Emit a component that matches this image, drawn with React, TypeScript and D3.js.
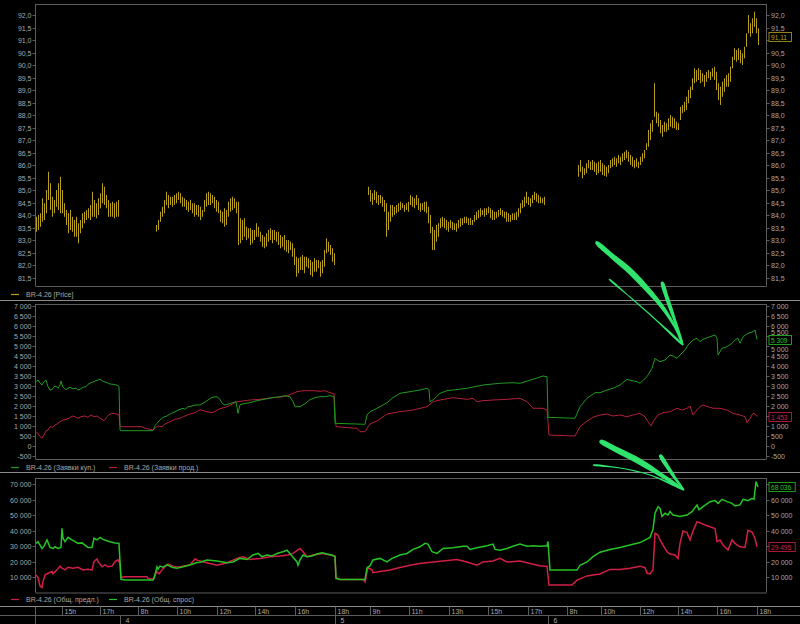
import React from "react";
import * as d3 from "d3";

// ---------- DATA ----------
const SLOTS = 365;

// price bars (high / low), one bar per slot, grouped by session
const seg1Start = 0;
const priceHigh1 = [83.93,84.0,84.07,84.67,84.47,85.0,85.73,85.27,84.73,84.6,85.0,85.27,85.53,85.0,84.47,84.2,84.07,84.2,83.93,83.8,83.93,83.67,83.8,84.07,84.13,84.2,84.27,84.4,84.93,84.6,84.47,84.67,84.87,85.27,85.13,84.8,84.6,84.47,84.53,84.47,84.53,84.6];
const priceLow1 = [83.33,83.4,83.53,83.73,83.8,84.07,84.6,84.2,83.93,84.07,84.33,84.2,84.07,84.07,83.93,83.6,83.27,83.4,83.33,83.13,83.13,82.87,83.27,83.47,83.67,83.8,83.87,83.8,83.93,83.93,83.87,84.0,84.27,84.47,84.4,84.27,83.93,83.93,83.93,83.87,83.93,83.93];

const seg2Start = 60;
const priceHigh2 = [83.6,83.8,84.13,84.33,84.6,84.93,84.8,84.73,84.73,84.8,84.87,84.93,84.87,84.73,84.67,84.6,84.53,84.6,84.47,84.47,84.4,84.4,
84.33,84.2,84.6,84.87,84.93,84.87,84.8,84.73,84.6,84.53,84.2,84.13,84.27,84.2,84.53,84.67,84.73,84.67,84.53,84.53,
83.87,83.8,83.87,83.53,83.47,83.47,83.4,83.4,83.67,83.53,83.33,83.2,83.13,83.27,83.4,83.47,83.4,83.4,83.33,83.33,
83.2,83.13,83.2,83.0,83.0,82.93,82.87,82.67,82.33,82.27,82.33,82.4,82.33,82.33,82.27,82.2,82.13,82.27,82.2,82.2,
82.13,82.2,82.6,83.07,82.93,82.8,82.67,82.47];
const priceLow2 = [83.33,83.4,83.73,83.93,84.07,84.4,84.27,84.4,84.33,84.4,84.47,84.6,84.47,84.33,84.33,84.2,84.13,84.2,84.07,83.93,84.0,83.93,
83.8,83.93,84.13,84.33,84.4,84.4,84.47,84.27,84.13,84.07,83.73,83.67,83.53,83.6,83.93,84.13,84.2,84.27,84.07,82.8,
82.87,83.0,83.13,83.0,83.07,82.8,82.87,83.0,83.13,83.13,82.93,82.73,82.67,82.73,82.93,83.0,82.87,83.0,82.93,82.8,
82.67,82.73,82.6,82.53,82.47,82.6,82.33,82.0,81.53,81.67,81.8,81.8,81.67,81.93,81.87,81.6,81.53,81.73,81.73,81.87,
81.53,81.67,81.93,82.47,82.53,82.4,82.13,82.0];

const seg3Start = 166;
const priceHigh3 = [85.13,85.0,84.87,85.0,84.93,84.8,84.8,84.73,84.6,84.47,
84.13,84.4,84.4,84.33,84.4,84.47,84.53,84.47,84.4,84.47,
84.53,84.8,84.73,84.67,84.8,84.67,84.47,84.47,84.53,84.53,
84.33,84.0,83.53,83.4,83.6,83.67,83.87,83.93,83.87,83.8,
83.73,83.8,83.73,83.67,83.67,83.8,83.87,83.87,83.93,83.93,
83.87,83.87,83.8,84.0,84.13,84.2,84.27,84.2,84.27,84.27,
84.33,84.27,84.2,84.13,84.13,84.2,84.27,84.2,84.13,84.13,
84.07,84.0,84.07,84.07,84.13,84.27,84.47,84.6,84.73,84.93,
84.73,84.67,84.8,84.93,84.87,84.8,84.73,84.67,84.73];
const priceLow3 = [84.8,84.53,84.4,84.6,84.47,84.4,84.47,84.33,84.13,83.13,
83.4,83.73,83.93,84.0,84.07,84.13,84.2,84.27,84.13,84.2,
84.13,84.4,84.33,84.27,84.4,84.2,84.13,84.2,84.13,84.07,
83.67,83.27,82.6,82.6,82.93,83.13,83.47,83.53,83.47,83.4,
83.33,83.47,83.4,83.4,83.33,83.47,83.53,83.6,83.67,83.67,
83.6,83.6,83.6,83.73,83.8,83.87,83.93,84.0,83.93,84.0,
84.07,83.87,83.8,83.8,83.87,83.93,84.0,83.93,83.87,83.73,
83.73,83.73,83.8,83.8,83.8,83.93,84.07,84.27,84.33,84.47,
84.4,84.33,84.47,84.6,84.53,84.47,84.47,84.47,84.4];

const seg4Start = 271;
const priceHigh4 = [86.0,86.2,85.93,85.87,86.07,86.2,86.13,86.2,86.13,86.07,86.13,
86.2,86.07,86.0,85.93,86.0,86.2,86.27,86.33,86.27,86.4,86.33,86.47,86.53,86.6,86.53,86.4,86.33,86.2,86.27,86.13,86.33,86.47,86.6,
86.87,87.4,87.67,87.8,89.27,88.13,88.07,87.8,87.6,87.73,87.67,87.87,88.0,87.93,87.87,87.73,87.67,
88.33,88.4,88.53,88.73,89.0,89.13,89.47,89.87,89.8,89.87,89.8,89.67,89.6,89.73,89.8,89.73,89.87,89.93,89.73,89.27,89.13,89.33,89.47,89.6,89.67,89.93,
90.33,90.67,90.6,90.67,90.6,90.47,90.73,91.27,92.0,91.67,91.87,92.13,91.87,91.47];
const priceLow4 = [85.53,85.73,85.47,85.6,85.67,85.87,85.8,85.8,85.73,85.6,85.67,
85.73,85.6,85.56,85.53,85.67,85.87,85.93,86.0,85.93,86.07,86.0,86.13,86.2,86.27,86.13,86.0,85.93,85.87,85.93,85.87,86.0,86.13,86.27,
86.6,86.73,87.0,87.33,87.93,87.67,87.53,87.27,87.13,87.33,87.33,87.4,87.53,87.47,87.47,87.4,87.4,
87.8,88.07,88.13,88.2,88.47,88.67,89.0,89.27,89.33,89.4,89.27,89.33,89.13,89.33,89.47,89.4,89.53,89.4,89.0,88.6,88.4,88.73,88.93,89.13,89.13,89.33,
89.87,90.2,90.13,90.2,90.07,90.0,90.27,90.73,91.27,91.13,91.27,91.53,91.27,90.8];

const priceLast = 91.11;

// buy orders "Заявки куп." [slot, value]
const buyOrders: [number, number][] = [
[0,3200],[1,3285],[2,3135],[3,3035],[4,3200],[5,3285],[6,2950],[7,2785],[8,2800],[9,2950],[10,2980],[11,2870],[12,3035],[12.5,3235],[13.5,2920],[15,2800],[16,2870],[17,2920],[18.5,2850],[20,2870],[21,2785],[22,2820],[23.5,2920],[25,2950],[26,3070],[27.5,3150],[29,3200],[30,3250],[31,3285],[32,3320],[33,3250],[34,3200],[35.5,3150],[37,3085],[38.5,3070],[40.5,3035],[41.5,2950],
[42,785],[42.5,750],[58.5,750],[59.5,1000],[60.5,1120],[62,1285],[63.5,1420],[65.5,1485],[67,1585],[68.5,1650],[70.5,1750],[72,1820],[73.5,1870],[74.5,1820],[76,1950],[78,1985],[79.5,2035],[82,2035],[84,2150],[86,2285],[88,2420],[90.5,2450],[92,2320],[93,2120],[94.5,2035],[96.5,2100],[98.5,2150],[100,2200],[101,1620],[102,2050],[104,2100],[107,2150],[110.5,2250],[114.5,2330],[118,2400],[122,2450],[124.5,2500],[127,2450],[128.5,2200],[129.5,1950],[132,1950],[134.5,2100],[137,2300],[139.5,2400],[142,2450],[144.5,2450],[147,2500],[149,2450],
[149.5,1120],[164.5,1070],[165.5,1535],[167,1700],[170.5,1870],[173.5,2035],[175.5,2150],[178,2370],[182,2620],[187,2700],[192,2785],[195.5,2870],[196.5,2800],[197,2200],[198.5,2285],[202,2620],[205.5,2750],[208.5,2785],[215.5,2870],[223.5,3035],[232,3120],[238.5,3150],[242,3120],[248.5,3320],[253.5,3485],[255.5,3450],
[256,1420],[269.5,1370],[272,1950],[275.5,2370],[279.5,2650],[282,2650],[285.5,2785],[288.5,2870],[292,3035],[295.5,3320],[298,3250],[300.5,3200],[302,3120],[305.5,3450],[308,3870],[309.5,4370],[310.5,4285],[312,4200],[314.5,4285],[317,4535],[318.5,4485],[320.5,4370],[322,4535],[324.5,4785],[326,5035],[328.5,5285],[330.5,5370],[332,5200],[333.5,5320],[337,5450],[339.5,5535],[340.5,5370],[341,4535],[343,4870],[345.5,4950],[348,5120],[349.5,5285],[351,5370],[352,5120],[353.5,5450],[356,5620],[358.5,5700],[359.5,5785],[360.5,5309]
];

// sell orders "Заявки прод." [slot, value]
const sellOrders: [number, number][] = [
[0,700],[1,600],[2,450],[3,370],[4,535],[5,750],[6,785],[7,950],[8.5,920],[9.5,1035],[10.5,1085],[12,1200],[13.5,1285],[15,1320],[16.5,1370],[18,1485],[19.5,1450],[21,1370],[22.5,1450],[24.5,1485],[26,1420],[27.5,1535],[29,1450],[30.5,1485],[32,1370],[34,1250],[35.5,1450],[37,1585],[38.5,1620],[40.5,1585],[41.5,1535],
[42,985],[42.5,950],[53,950],[54.5,870],[57,820],[58.5,785],[59.5,870],[61,985],[63,950],[64.5,1085],[66,1150],[68,1250],[69.5,1320],[72,1370],[74.5,1485],[77,1585],[79.5,1650],[82,1800],[85.5,1700],[88,1650],[92,1850],[95.5,1950],[98.5,2100],[100.5,2200],[107,2285],[112,2320],[118.5,2400],[123.5,2450],[127,2550],[130.5,2700],[133.5,2750],[138.5,2750],[142,2720],[144.5,2750],[147,2650],[149,2600],
[150,950],[160.5,870],[162,700],[164.5,700],[165.5,870],[167,1085],[170.5,1235],[175.5,1585],[182,1700],[188.5,1785],[195.5,1950],[198.5,2200],[202,2285],[208.5,2400],[215.5,2320],[218.5,2370],[220.5,2200],[223.5,2250],[228.5,2285],[235.5,2320],[242,2370],[245.5,2200],[248.5,1870],[253.5,1870],[255.5,1785],
[256.5,535],[269.5,485],[272,950],[275.5,1235],[278.5,1420],[282,1535],[285.5,1585],[288.5,1485],[292,1535],[295.5,1450],[298.5,1535],[302,1620],[304.5,1450],[306,1200],[307.5,985],[308.5,1200],[311,1535],[313.5,1650],[317,1700],[320.5,1870],[323,1785],[325.5,1870],[327,1985],[328.5,1535],[330.5,1785],[332,1950],[333.5,2035],[336,1950],[338.5,1870],[342,1870],[345.5,1785],[348.5,1620],[352,1535],[354.5,1450],[355.5,1150],[357,1370],[358.5,1620],[359.5,1600],[360.5,1453]
];

// total supply "Общ. предл." [slot, value]
const totalSupply: [number, number][] = [
[0,11300],[1,9800],[2,4200],[3,3300],[3.5,7000],[4.5,11300],[6,12400],[8,13500],[8.5,12000],[10.5,14600],[12,17000],[13,15700],[14.5,14600],[16,16300],[18.5,15700],[21,16300],[23.5,14600],[26,15000],[28,14600],[29,20000],[30.5,21600],[31,20000],[33,16600],[34.5,17800],[36,16600],[38,17000],[39.5,20000],[41,21100],[42,18900],
[42.5,9800],[44.5,10200],[55.5,10200],[56,9100],[58.5,8500],[59.5,11300],[60.5,13500],[61.5,12000],[63,14600],[64.5,16600],[66,18300],[68.5,17000],[71,16300],[73.5,17000],[77,17800],[79.5,21600],[81,20700],[82,20300],[85.5,19200],[90.5,17600],[95.5,19200],[100.5,22000],[103.5,23100],[107,21300],[112,22000],[117,23100],[122,23600],[126,24200],[128.5,25200],[132,28400],[133.5,26300],[135.5,23100],[138.5,24200],[143.5,25200],[147,24200],[149.5,23600],
[150,9700],[152,8400],[163.5,8400],[164.5,6900],[166,16100],[168,14500],[168.5,12800],[172,13500],[177,14500],[182,16100],[187,17600],[192,18700],[198.5,19700],[203.5,20300],[210.5,21300],[215.5,19700],[220.5,17600],[223.5,19700],[228.5,20300],[232,22000],[235.5,19700],[242,20300],[247,18700],[252,17300],[255.5,16800],
[256.5,4800],[268,4800],[270.5,8000],[275.5,10700],[278.5,11300],[282,12000],[287,14900],[292,14900],[297,15600],[302,17000],[304.5,16000],[305.5,12400],[307,12000],[308.5,14600],[309.5,38200],[311,37100],[312,33900],[313.5,30600],[315.5,26300],[317,24800],[319.5,24200],[321,22000],[322,31700],[323.5,39700],[325.5,38600],[327,33900],[328.5,39700],[330.5,45700],[332,45000],[334.5,43500],[337,42400],[339.5,41300],[340.5,32800],[342,33900],[343.5,30600],[346,27400],[348,33900],[349.5,31700],[352,29500],[354.5,29100],[356,40100],[358,39000],[359.5,34800],[360.5,29495]
];

// total demand "Общ. спрос" [slot, value]
const totalDemand: [number, number][] = [
[0,31700],[1,32800],[2,30600],[3,28400],[4,29900],[5.5,33900],[7,29100],[8.5,28400],[9.5,29500],[11,28400],[12.5,29100],[13,41400],[13.5,35000],[14.5,32800],[16,35600],[18,33900],[19.5,32800],[21,31700],[23,32000],[24.5,30600],[26,29100],[28,29100],[29,35000],[30.5,33900],[32,35600],[33.5,34300],[35.5,33400],[37,32800],[39.5,32000],[41.5,31700],
[42.5,8500],[44.5,8000],[58.5,8000],[59,9100],[60.5,16600],[61,15000],[62,17000],[63.5,16300],[65.5,17800],[68,16300],[70.5,15700],[73.5,16600],[77,17800],[80.5,19300],[82,19500],[85.5,21000],[90.5,20300],[95.5,19200],[98.5,19700],[102,22000],[105.5,21300],[108.5,24200],[111,25200],[113,23100],[115.5,24200],[118,23600],[120.5,25200],[123.5,26300],[125.5,27300],[128,23600],[130.5,19700],[131,17600],[132,21000],[133.5,24200],[135.5,23100],[138,23600],[140.5,24800],[143,25600],[145.5,24800],[148,24200],[149.5,23100],
[150,9100],[152,8400],[164.5,8400],[165.5,15800],[167,17300],[168.5,21000],[172,22000],[175.5,19700],[178,22000],[182,24200],[185.5,25200],[188.5,27800],[192,29500],[194.5,31700],[196,31200],[198,26300],[200.5,25200],[203.5,28400],[208.5,28900],[213.5,29800],[215.5,29800],[217,27800],[220.5,28900],[225.5,30200],[228.5,31200],[229.5,27800],[232,27300],[235.5,28400],[238.5,29800],[242,31200],[245.5,29800],[248.5,30200],[252,29800],[255.5,30200],[256,32900],
[257,14500],[270.5,14500],[272,17600],[275.5,19700],[278.5,23100],[282,26000],[287,27800],[292,29100],[297,30600],[302,32200],[307,35500],[308.5,40800],[309.5,51100],[311,55400],[312,54300],[313,49000],[314.5,51100],[316,50000],[317,52200],[318.5,50000],[322,49000],[325.5,50000],[328,52200],[330.5,56500],[331.5,53300],[333.5,55400],[337,58600],[339.5,59300],[341,57500],[343,60100],[345.5,58600],[348,57500],[349.5,55800],[352,56500],[353.5,60100],[356,59300],[358,60800],[359,60100],[360,71500],[361,68036]
];

// y-axis ticks
const priceTicks = d3.range(81.5, 92.001, 0.5);
const ordersTicks = d3.range(-500, 7001, 500);
const volumeTicks = d3.range(10000, 70001, 10000);

// time axis
const timeTickSlots = [13, 32, 51, 70.5, 90.5, 109.5, 129.5, 149.5, 167, 186.5, 206.5, 226, 246, 265.5, 282.5, 302, 321, 340.5, 360.5];
const timeTickLabels = ["15h", "17h", "8h", "10h", "12h", "14h", "16h", "18h", "9h", "11h", "13h", "15h", "17h", "8h", "10h", "12h", "14h", "16h", "18h"];
const daySlots = [42, 149.5, 256];
const dayLabels = ["4", "5", "6"];

// legends
const priceLegend = "BR-4.26 [Price]";
const buyLegend = "BR-4.26 (Заявки куп.)";
const sellLegend = "BR-4.26 (Заявки прод.)";
const supplyLegend = "BR-4.26 (Общ. предл.)";
const demandLegend = "BR-4.26 (Общ. спрос)";

// ---------- STYLE / LAYOUT ----------
const W = 800, H = 624;
const AXL = 35.5, AXR = 766.5;
const C_BG = "#000000";
const C_AXIS = "#5c5c5c";
const C_SEP = "#8c8c8c";
const C_TEXT = "#a8a8a8";
const C_PRICE = "#b9a01c";
const C_BUY = "#1f9a1f";
const C_SELL = "#b31f3a";
const C_DEM = "#25c425";
const C_SUP = "#d21f45";
const C_ARROW = "#2fe36c";
const FONT = "'Liberation Sans', Arial, sans-serif";
const FS = 7;

const ru = d3.formatLocale({ decimal: ",", thousands: " ", grouping: [3], currency: ["", ""], minus: "-" } as any);
const fmtPrice = ru.format(".1f");
const fmtPriceLast = ru.format(".2f");
const fmtInt = ru.format(",.0f");

const x = d3.scaleLinear().domain([0, SLOTS]).range([36, 766]);
const panels = {
  price: { top: 4, bottom: 286, y: d3.scaleLinear().domain([81.5, 92]).range([277.5, 15]) },
  orders: { top: 304, bottom: 459, y: d3.scaleLinear().domain([-500, 7000]).range([455.7, 305.7]) },
  volume: { top: 478, bottom: 592.5, y: d3.scaleLinear().domain([0, 70000]).range([592.5, 484]) },
};

function taper(pts: number[][], ws: number[]): string {
  const left: [number, number][] = [];
  const right: [number, number][] = [];
  for (let i = 0; i < pts.length; i++) {
    const a = pts[Math.max(0, i - 1)], b = pts[Math.min(pts.length - 1, i + 1)];
    const dx = b[0] - a[0], dy = b[1] - a[1];
    const len = Math.hypot(dx, dy) || 1;
    const nx = -dy / len, ny = dx / len, w = ws[i] / 2;
    left.push([pts[i][0] + nx * w, pts[i][1] + ny * w]);
    right.push([pts[i][0] - nx * w, pts[i][1] - ny * w]);
  }
  return d3.line().curve(d3.curveCatmullRomClosed.alpha(0.5))(left.concat(right.reverse())) || "";
}

// hand-drawn annotation arrows (screen annotations, not data)
const arrowStrokes: { pts: number[][]; ws: number[] }[] = [
  { pts: [[596, 242], [612, 256], [631, 272], [648, 290], [663, 308], [675, 327], [683, 345]], ws: [2.5, 5, 6, 5.5, 4, 2.5, 0.8] },
  { pts: [[609, 279], [630, 297], [655, 319], [683, 345]], ws: [0.9, 1, 1.2, 0.8] },
  { pts: [[662, 282], [667, 298], [674, 318], [683, 345]], ws: [2.5, 4, 3, 0.8] },
  { pts: [[600, 441], [615, 449], [635, 459], [655, 471], [672, 482], [684, 490]], ws: [3, 5.5, 6, 5, 3.5, 0.8] },
  { pts: [[593, 465], [620, 468], [650, 475], [684, 490]], ws: [0.9, 1, 1.2, 0.8] },
  { pts: [[660, 455], [667, 466], [675, 478], [684, 490]], ws: [2.5, 4, 3, 0.8] },
];

function YAxis({ scale, ticks, fmt, top, bottom, hide, boxes }: any) {
  return (
    <g>
      <line x1={AXL} x2={AXL} y1={top} y2={bottom} stroke={C_AXIS} />
      <line x1={AXR} x2={AXR} y1={top} y2={bottom} stroke={C_AXIS} />
      <line x1={AXL} x2={AXR} y1={top + 0.5} y2={top + 0.5} stroke={C_AXIS} />
      <line x1={AXL} x2={AXR} y1={bottom + 0.5} y2={bottom + 0.5} stroke={C_AXIS} />
      {ticks.map((t: number, i: number) => {
        const yy = Math.round(scale(t)) + 0.5;
        // right-side label is nudged clear of any last-value box
        let ry = yy;
        (boxes || []).forEach((b: number) => {
          const d = ry - b;
          if (Math.abs(d) < 8.5) ry = b + (d >= 0 ? 8.5 : -8.5);
        });
        return (
          <g key={i}>
            <line x1={AXL - 3} x2={AXL} y1={yy} y2={yy} stroke={C_AXIS} />
            <line x1={AXR} x2={AXR + 3} y1={yy} y2={yy} stroke={C_AXIS} />
            <text x={AXL - 4} y={yy} textAnchor="end" dominantBaseline="central" fill={C_TEXT} fontSize={FS} fontFamily={FONT}>{fmt(t)}</text>
            {hide && hide.includes(t) ? null : (
              <text x={AXR + 4.5} y={ry} dominantBaseline="central" fill={C_TEXT} fontSize={FS} fontFamily={FONT}>{fmt(t)}</text>
            )}
          </g>
        );
      })}
    </g>
  );
}

function ValueBox({ y, text, color }: { y: number; text: string; color: string }) {
  const w = text.length * 3.7 + 4;
  return (
    <g>
      <rect x={AXR + 2.5} y={Math.round(y) - 4.5} width={w} height={9} fill="#000" stroke={color} strokeWidth={0.8} />
      <text x={AXR + 4.5} y={Math.round(y) + 0.5} dominantBaseline="central" fill={color} fontSize={6.6} fontFamily={FONT}>{text}</text>
    </g>
  );
}

function Legend({ y, items }: { y: number; items: { label: string; color: string; x: number }[] }) {
  return (
    <g>
      {items.map((it, i) => (
        <g key={i}>
          <line x1={it.x} x2={it.x + 8} y1={y + 0.5} y2={y + 0.5} stroke={it.color} strokeWidth={1.2} />
          <text x={it.x + 15} y={y + 0.5} dominantBaseline="central" fill={C_TEXT} fontSize={FS} fontFamily={FONT}>{it.label}</text>
        </g>
      ))}
    </g>
  );
}

export default function App() {
  const pY = panels.price.y, oY = panels.orders.y, vY = panels.volume.y;
  const segs = [
    { start: seg1Start, hi: priceHigh1, lo: priceLow1 },
    { start: seg2Start, hi: priceHigh2, lo: priceLow2 },
    { start: seg3Start, hi: priceHigh3, lo: priceLow3 },
    { start: seg4Start, hi: priceHigh4, lo: priceLow4 },
  ];
  const lineO = d3.line<[number, number]>().x((d) => x(d[0])).y((d) => oY(d[1]));
  const lineV = d3.line<[number, number]>().x((d) => x(d[0])).y((d) => vY(d[1]));
  const buyLast = buyOrders[buyOrders.length - 1][1];
  const sellLast = sellOrders[sellOrders.length - 1][1];
  const demLast = totalDemand[totalDemand.length - 1][1];
  const supLast = totalSupply[totalSupply.length - 1][1];

  return (
    <svg width={W} height={H} style={{ position: "absolute", left: 0, top: 0, background: C_BG, display: "block" }}>
      <rect x={0} y={0} width={W} height={H} fill={C_BG} />

      {/* PRICE PANEL */}
      <YAxis scale={pY} ticks={priceTicks} fmt={fmtPrice} top={panels.price.top} bottom={panels.price.bottom} hide={[91]} boxes={[Math.round(pY(priceLast)) + 0.5]} />
      <g>
        {segs.map((s, si) =>
          s.hi.map((h, i) => {
            const xx = Math.round(x(s.start + i)) + 0.5;
            const y1 = pY(h), y2 = pY(s.lo[i]);
            return <line key={si + "-" + i} x1={xx} x2={xx} y1={y1} y2={Math.max(y2, y1 + 1)} stroke={C_PRICE} strokeWidth={1} />;
          })
        )}
      </g>
      <ValueBox y={pY(priceLast)} text={fmtPriceLast(priceLast)} color={C_PRICE} />
      <Legend y={294} items={[{ label: priceLegend, color: C_PRICE, x: 11 }]} />
      <line x1={0} x2={W} y1={300.5} y2={300.5} stroke={C_SEP} />

      {/* ORDERS PANEL */}
      <YAxis scale={oY} ticks={ordersTicks} fmt={fmtInt} top={panels.orders.top} bottom={panels.orders.bottom} hide={[1500]}
        boxes={[Math.round(oY(buyLast)) + 0.5, Math.round(oY(sellLast)) + 0.5]} />
      <path d={lineO(sellOrders) || ""} fill="none" stroke={C_SELL} strokeWidth={1} />
      <path d={lineO(buyOrders) || ""} fill="none" stroke={C_BUY} strokeWidth={1} />
      <ValueBox y={oY(buyLast)} text={fmtInt(buyLast)} color={C_DEM} />
      <ValueBox y={oY(sellLast)} text={fmtInt(sellLast)} color={C_SUP} />
      <Legend y={467} items={[{ label: buyLegend, color: C_BUY, x: 11 }, { label: sellLegend, color: C_SELL, x: 109 }]} />
      <line x1={0} x2={W} y1={472.5} y2={472.5} stroke={C_SEP} />

      {/* VOLUME PANEL */}
      <YAxis scale={vY} ticks={volumeTicks} fmt={fmtInt} top={panels.volume.top} bottom={panels.volume.bottom} hide={[70000, 30000]}
        boxes={[Math.round(vY(demLast)) + 0.5, Math.round(vY(supLast)) + 0.5]} />
      <path d={lineV(totalSupply) || ""} fill="none" stroke={C_SUP} strokeWidth={1.5} />
      <path d={lineV(totalDemand) || ""} fill="none" stroke={C_DEM} strokeWidth={1.5} />
      <ValueBox y={vY(demLast)} text={fmtInt(demLast)} color={C_DEM} />
      <ValueBox y={vY(supLast)} text={fmtInt(supLast)} color={C_SUP} />
      <Legend y={599} items={[{ label: supplyLegend, color: C_SUP, x: 11 }, { label: demandLegend, color: C_DEM, x: 109 }]} />

      {/* TIME AXIS */}
      <line x1={0} x2={W} y1={606.5} y2={606.5} stroke={C_SEP} />
      <line x1={0} x2={W} y1={615.5} y2={615.5} stroke={C_AXIS} />
      <line x1={AXL} x2={AXL} y1={606.5} y2={H} stroke={C_AXIS} />
      {timeTickSlots.map((s, i) => {
        const xx = Math.round(x(s)) + 0.5;
        return (
          <g key={"t" + i}>
            <line x1={xx} x2={xx} y1={606.5} y2={615.5} stroke={C_AXIS} />
            <text x={xx + 2} y={611.5} dominantBaseline="central" fill={C_TEXT} fontSize={FS} fontFamily={FONT}>{timeTickLabels[i]}</text>
          </g>
        );
      })}
      {daySlots.map((s, i) => {
        const xx = Math.round(x(s)) + 0.5;
        return (
          <g key={"d" + i}>
            <line x1={xx} x2={xx} y1={615.5} y2={H} stroke={C_AXIS} />
            <text x={xx + 5} y={620} dominantBaseline="central" fill={C_TEXT} fontSize={FS} fontFamily={FONT}>{dayLabels[i]}</text>
          </g>
        );
      })}

      {/* ANNOTATION ARROWS */}
      {arrowStrokes.map((a, i) => (
        <path key={"a" + i} d={taper(a.pts, a.ws)} fill={C_ARROW} />
      ))}
    </svg>
  );
}
